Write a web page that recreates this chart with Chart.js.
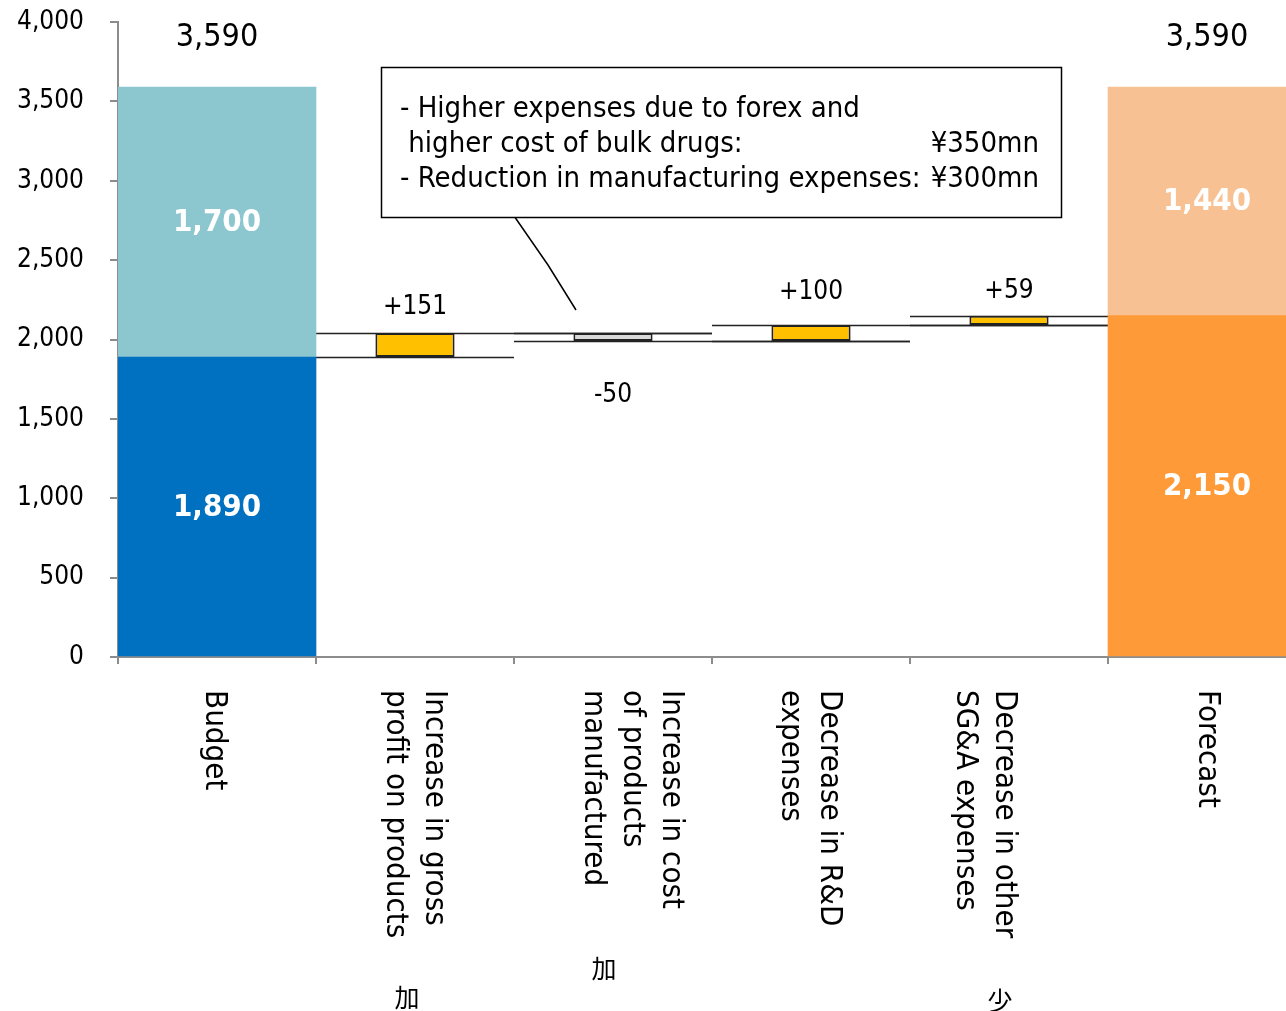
<!DOCTYPE html>
<html>
<head>
<meta charset="utf-8">
<title>Budget vs Forecast</title>
<script src="https://cdn.jsdelivr.net/npm/chart.js@4.4.0/dist/chart.umd.min.js"></script>
<style>
  html, body { margin: 0; padding: 0; background: #fff; overflow: hidden; }
  #wrap { width: 1306px; height: 1011px; }
</style>
</head>
<body>
<div id="wrap"><canvas id="waterfall" width="1306" height="1011"></canvas></div>
<script>
// ---------------- DATA ----------------
const categories = ["Budget", "Gross profit", "Cost of products", "R&D", "SG&A", "Forecast"];
const axisLabels = [
  ["Budget"],
  ["Increase in gross", "profit on products"],
  ["Increase in cost", "of products", "manufactured"],
  ["Decrease in R&D", "expenses"],
  ["Decrease in other", "SG&A expenses"],
  ["Forecast"]
];
const budgetParts = [1890, 1700];    // lower, upper
const forecastParts = [2150, 1440];  // lower, upper
const changes = [151, -50, 100, 59]; // steps between budget and forecast
const yTicks = [0, 500, 1000, 1500, 2000, 2500, 3000, 3500, 4000];
const noteLines = [
  ["- Higher expenses due to forex and", ""],
  [" higher cost of bulk drugs:", "¥350mn"],
  ["- Reduction in manufacturing expenses:", "¥300mn"]
];

// ---------------- STYLE ----------------
const FONT = '"DejaVu Sans Condensed", "DejaVu Sans", sans-serif';
const AXIS_GREY = "#8c8c8c";
const stepLabelOffset = [-26, 54, -33, -24];   // px from the bar end
const axisLabelShift = [-3, 0, 19, -1, -24, 0]; // px from category centre
const LINE_GAP = 39;

// running totals for the floating bars
const stepBars = [];
let level = budgetParts[0];
changes.forEach(c => {
  stepBars.push([level, level + c]);
  level += c;
});
const budgetTotal = budgetParts[0] + budgetParts[1];
const forecastTotal = forecastParts[0] + forecastParts[1];

const lowerData = [[0, budgetParts[0]], null, null, null, null, [0, forecastParts[0]]];
const upperData = [[budgetParts[0], budgetTotal], null, null, null, null, [forecastParts[0], forecastTotal]];
const stepData = [null, ...stepBars, null];

const fmt = v => Math.abs(v).toLocaleString("en-US");

// ---------------- EXTRAS: connectors, labels, note ----------------
const waterfallExtras = {
  id: "waterfallExtras",
  beforeDatasetsDraw(chart) {
    const { ctx, scales: { x, y } } = chart;
    const half = (x.getPixelForValue(1) - x.getPixelForValue(0)) / 2;
    ctx.save();
    ctx.strokeStyle = "#222";
    ctx.lineWidth = 1.5;
    stepBars.forEach((b, i) => {
      const c = i + 1;
      const l = x.getPixelForValue(c) - half;
      const ys = Math.round(y.getPixelForValue(b[0])) + 0.5;
      const ye = Math.round(y.getPixelForValue(b[1])) + 0.5;
      ctx.beginPath();
      ctx.moveTo(l, ys); ctx.lineTo(l + 2 * half, ys);
      ctx.moveTo(l, ye); ctx.lineTo(l + 4 * half, ye);
      ctx.stroke();
    });
    ctx.restore();
  },
  afterDatasetsDraw(chart) {
    const { ctx, scales: { x, y } } = chart;
    ctx.save();
    ctx.textAlign = "center";
    ctx.textBaseline = "middle";

    // totals above the end bars
    ctx.fillStyle = "#000";
    ctx.font = "32px " + FONT;
    ctx.fillText(fmt(budgetTotal), x.getPixelForValue(0), y.getPixelForValue(budgetTotal) - 49);
    ctx.fillText(fmt(forecastTotal), x.getPixelForValue(5), y.getPixelForValue(forecastTotal) - 49);

    // white figures inside the stacked bars
    ctx.fillStyle = "#fff";
    ctx.font = "bold 31px " + FONT;
    const inner = [[0, 0, budgetParts[0]], [0, budgetParts[0], budgetTotal],
                   [5, 0, forecastParts[0]], [5, forecastParts[0], forecastTotal]];
    inner.forEach(([c, a, b]) => {
      ctx.fillText(fmt(b - a), x.getPixelForValue(c), (y.getPixelForValue(a) + y.getPixelForValue(b)) / 2 + 1);
    });

    // step values
    ctx.fillStyle = "#000";
    ctx.font = "26px " + FONT;
    changes.forEach((c, i) => {
      const txt = (c > 0 ? "+" : "-") + fmt(c);
      ctx.fillText(txt, x.getPixelForValue(i + 1), y.getPixelForValue(stepBars[i][1]) + stepLabelOffset[i]);
    });

    // category labels, turned clockwise
    ctx.font = "31px " + FONT;
    ctx.textAlign = "left";
    const top = x.top + 33;
    axisLabels.forEach((lines, c) => {
      const cx = x.getPixelForValue(c) + axisLabelShift[c];
      lines.forEach((t, k) => {
        const lx = cx + ((lines.length - 1) / 2 - k) * LINE_GAP;
        ctx.save();
        ctx.translate(lx, top);
        ctx.rotate(Math.PI / 2);
        ctx.fillText(t, 0, 0);
        ctx.restore();
      });
    });

    // stray glyphs left under the labels
    ctx.textAlign = "center";
    ctx.font = '25px "Noto Sans CJK JP", sans-serif';
    ctx.fillText("加", x.getPixelForValue(1) - 8, 997);
    ctx.fillText("加", x.getPixelForValue(2) - 9, 968);
    ctx.fillText("少", x.getPixelForValue(4) - 9, 1000);

    // note box with leader line
    ctx.strokeStyle = "#000";
    ctx.lineWidth = 1.5;
    ctx.beginPath();
    ctx.moveTo(512, 213); ctx.lineTo(548, 265); ctx.lineTo(576, 310);
    ctx.stroke();
    ctx.fillStyle = "#fff";
    ctx.fillRect(381, 67, 681, 151);
    ctx.strokeRect(381.5, 67.5, 680, 150);
    ctx.fillStyle = "#000";
    ctx.font = "29px " + FONT;
    noteLines.forEach(([left, right], k) => {
      const ly = 109 + k * 35;
      ctx.textAlign = "left";
      ctx.fillText(left, 400, ly);
      ctx.textAlign = "right";
      ctx.fillText(right, 1039, ly);
    });
    ctx.restore();
  }
};

// ---------------- CHART ----------------
new Chart(document.getElementById("waterfall"), {
  type: "bar",
  data: {
    labels: categories,
    datasets: [
      {
        data: lowerData,
        backgroundColor: ["#0070C0", null, null, null, null, "#FF9A38"],
        barPercentage: 1,
        categoryPercentage: 1
      },
      {
        data: upperData,
        backgroundColor: ["#8CC6CE", null, null, null, null, "#F8C193"],
        barPercentage: 1,
        categoryPercentage: 1
      },
      {
        data: stepData,
        backgroundColor: ["#fff", "#FFC000", "#D9D9D9", "#FFC000", "#FFC000", "#fff"],
        borderColor: "#222",
        borderWidth: 2,
        borderSkipped: false,
        barPercentage: 0.4,
        categoryPercentage: 1
      }
    ]
  },
  options: {
    responsive: false,
    animation: false,
    grouped: false,
    layout: { padding: { top: 22, right: 0, left: 0, bottom: 0 } },
    plugins: { legend: { display: false }, tooltip: { enabled: false } },
    scales: {
      x: {
        offset: true,
        grid: { offset: true, drawOnChartArea: false, tickLength: 7, color: AXIS_GREY, lineWidth: 2 },
        border: { color: AXIS_GREY, width: 2 },
        ticks: { display: false },
        afterFit: s => { s.height = 354; }
      },
      y: {
        min: 0,
        max: 4000,
        afterBuildTicks: s => { s.ticks = yTicks.map(v => ({ value: v })); },
        ticks: {
          callback: v => v.toLocaleString("en-US"),
          font: { size: 26, family: FONT },
          color: "#000",
          padding: 26
        },
        grid: { drawOnChartArea: false, tickLength: 8, color: AXIS_GREY, lineWidth: 2 },
        border: { color: AXIS_GREY, width: 2 },
        afterFit: s => {
          // fixed axis width; keep the tick-label padding out of the plot inset
          s.width = 118;
          s.paddingTop = 15;
          s.paddingBottom = 15;
        }
      }
    }
  },
  plugins: [waterfallExtras]
});
</script>
</body>
</html>
